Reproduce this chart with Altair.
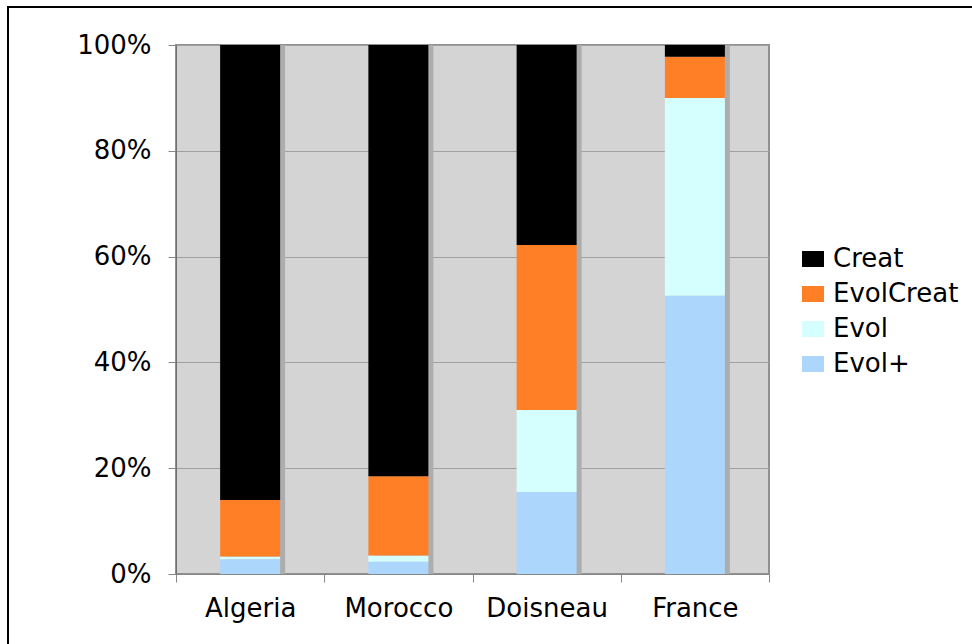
import altair as alt
import pandas as pd

categories = ["Algeria", "Morocco", "Doisneau", "France"]
series = ["Creat", "EvolCreat", "Evol", "Evol+"]
colors = ["#000000", "#FF7F27", "#D5FFFF", "#ADD6FD"]

evol_plus = [2.8, 2.3, 15.5, 52.6]
evol = [0.5, 1.2, 15.5, 37.4]
evol_creat = [10.7, 15.0, 31.2, 7.8]
creat = [86.0, 81.5, 37.8, 2.2]

y_ticks = [0, 0.2, 0.4, 0.6, 0.8, 1.0]

rows = []
for i, c in enumerate(categories):
    for s, vals, rank in [("Evol+", evol_plus, 0), ("Evol", evol, 1),
                          ("EvolCreat", evol_creat, 2), ("Creat", creat, 3)]:
        rows.append({"category": c, "series": s, "value": vals[i], "rank": rank})
df = pd.DataFrame(rows)

FONT = "DejaVu Sans"

x_enc = alt.X("category:N", sort=categories,
              scale=alt.Scale(paddingInner=0, paddingOuter=0),
              axis=alt.Axis(title=None, labelAngle=0, tickBand="extent",
                            tickSize=8, tickColor="#888888", domainColor="#888888",
                            labelFont=FONT, labelFontSize=26, labelColor="#000000",
                            labelPadding=13, grid=False))

shadow = alt.Chart(df).mark_bar(width=60, xOffset=5, yOffset=4, color="#ADADAD",
                                clip=True).encode(
    x=x_enc,
    y=alt.Y("sum(value):Q", stack="normalize"),
)

bars = alt.Chart(df).mark_bar(width=60).encode(
    x=x_enc,
    y=alt.Y("value:Q", stack="normalize",
            scale=alt.Scale(domain=[0, 1]),
            axis=alt.Axis(title=None, values=y_ticks, format=".0%",
                          tickSize=8, tickColor="#888888", domainColor="#707070",
                          gridColor="#A0A0A0", gridWidth=1,
                          labelFont=FONT, labelFontSize=26, labelColor="#000000",
                          labelPadding=17)),
    color=alt.Color("series:N", scale=alt.Scale(domain=series, range=colors),
                    legend=alt.Legend(title=None, orient="none", legendX=624, legendY=201,
                                      symbolType="M-1,-0.73H1V0.73H-1Z", symbolSize=484,
                                      symbolStrokeWidth=0, labelFont=FONT,
                                      labelFontSize=26, labelColor="#000000",
                                      labelOffset=7, rowPadding=9)),
    order=alt.Order("rank:Q", sort="ascending"),
)

frame_left = alt.Chart(df).mark_rule(color="#000000", strokeWidth=2).encode(
    x=alt.value(-168), y=alt.value(-38), y2=alt.value(620))
frame_top = alt.Chart(df).mark_rule(color="#000000", strokeWidth=2).encode(
    x=alt.value(-169), x2=alt.value(820), y=alt.value(-38))

chart = alt.layer(shadow, bars, frame_left, frame_top).properties(
    width=593, height=529,
    padding={"left": 176, "top": 45, "right": 203, "bottom": 70},
    autosize=alt.AutoSizeParams(type="none"),
    background="#FFFFFF",
).configure_view(fill="#D4D4D4", stroke="#909090", strokeWidth=2)

chart.save("out.html", embed_options={"renderer": "svg", "actions": False})
